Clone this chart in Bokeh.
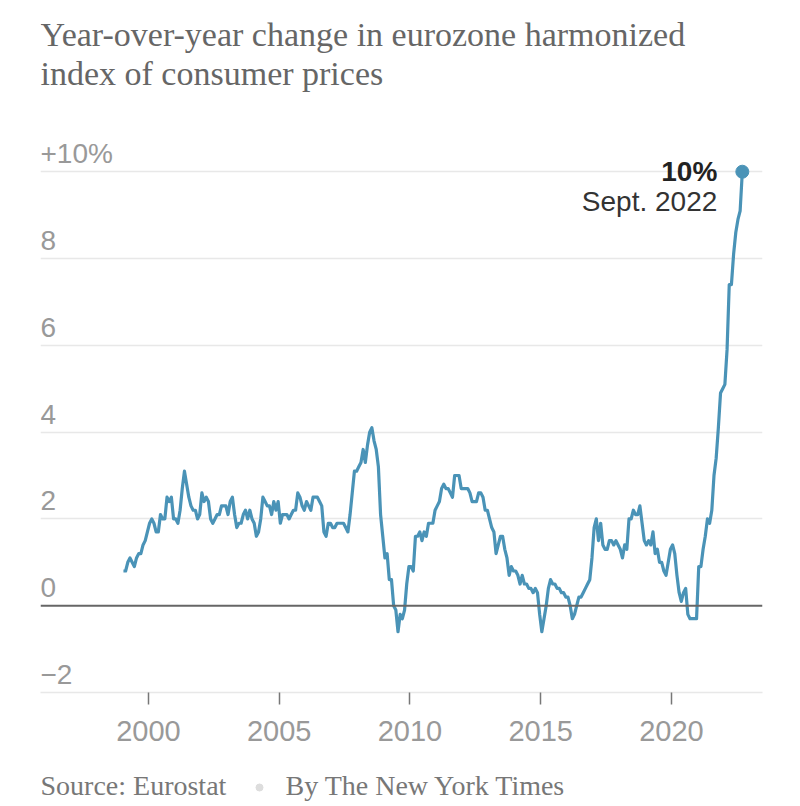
from bokeh.plotting import figure
from bokeh.layouts import column
from bokeh.models import Span, FixedTicker, Range1d
from bokeh.core.properties import value
from bokeh.embed import file_html
from bokeh.resources import INLINE

# Eurozone HICP, year-over-year change (%), monthly Jan..Dec
y1999 = [0.8, 0.8, 1.0, 1.1, 1.0, 0.9, 1.1, 1.2, 1.2, 1.4, 1.5, 1.7]
y2000 = [1.9, 2.0, 1.9, 1.7, 1.7, 2.1, 2.0, 2.0, 2.5, 2.4, 2.5, 2.0]
y2001 = [2.0, 1.9, 2.2, 2.7, 3.1, 2.8, 2.5, 2.3, 2.2, 2.2, 2.0, 2.1]
y2002 = [2.6, 2.4, 2.5, 2.4, 2.0, 1.9, 2.0, 2.1, 2.1, 2.3, 2.3, 2.3]
y2003 = [2.1, 2.4, 2.5, 2.1, 1.8, 1.9, 1.9, 2.1, 2.2, 2.0, 2.2, 2.0]
y2004 = [1.9, 1.6, 1.7, 2.0, 2.5, 2.4, 2.3, 2.3, 2.1, 2.4, 2.2, 2.4]
y2005 = [1.9, 2.1, 2.1, 2.1, 2.0, 2.1, 2.2, 2.2, 2.6, 2.5, 2.3, 2.2]
y2006 = [2.4, 2.3, 2.2, 2.5, 2.5, 2.5, 2.4, 2.3, 1.7, 1.6, 1.9, 1.9]
y2007 = [1.8, 1.8, 1.9, 1.9, 1.9, 1.9, 1.8, 1.7, 2.1, 2.6, 3.1, 3.1]
y2008 = [3.2, 3.3, 3.6, 3.3, 3.7, 4.0, 4.1, 3.8, 3.6, 3.2, 2.1, 1.6]
y2009 = [1.1, 1.2, 0.6, 0.6, 0.0, -0.1, -0.6, -0.2, -0.3, -0.1, 0.5, 0.9]
y2010 = [0.9, 0.8, 1.6, 1.6, 1.7, 1.5, 1.7, 1.6, 1.9, 1.9, 1.9, 2.2]
y2011 = [2.3, 2.4, 2.7, 2.8, 2.7, 2.7, 2.6, 2.5, 3.0, 3.0, 3.0, 2.7]
y2012 = [2.7, 2.7, 2.7, 2.6, 2.4, 2.4, 2.4, 2.6, 2.6, 2.5, 2.2, 2.2]
y2013 = [2.0, 1.8, 1.7, 1.2, 1.4, 1.6, 1.6, 1.3, 1.1, 0.7, 0.9, 0.8]
y2014 = [0.8, 0.7, 0.5, 0.7, 0.5, 0.5, 0.4, 0.4, 0.3, 0.4, 0.3, -0.2]
y2015 = [-0.6, -0.3, 0.0, 0.4, 0.6, 0.5, 0.5, 0.4, 0.4, 0.3, 0.3, 0.2]
y2016 = [0.2, 0.0, -0.3, -0.2, 0.0, 0.2, 0.2, 0.3, 0.4, 0.5, 0.6, 1.1]
y2017 = [1.8, 2.0, 1.5, 1.9, 1.4, 1.3, 1.3, 1.5, 1.5, 1.4, 1.5, 1.4]
y2018 = [1.3, 1.1, 1.4, 1.3, 2.0, 2.0, 2.2, 2.1, 2.1, 2.3, 1.9, 1.5]
y2019 = [1.4, 1.5, 1.4, 1.7, 1.2, 1.3, 1.0, 1.0, 0.8, 0.7, 1.0, 1.3]
y2020 = [1.4, 1.2, 0.7, 0.3, 0.1, 0.3, 0.4, -0.2, -0.3, -0.3, -0.3, -0.3]
y2021 = [0.9, 0.9, 1.3, 1.6, 2.0, 1.9, 2.2, 3.0, 3.4, 4.1, 4.9, 5.0]
y2022 = [5.1, 5.9, 7.4, 7.4, 8.1, 8.6, 8.9, 9.1, 10.0]

series = [y1999, y2000, y2001, y2002, y2003, y2004, y2005, y2006, y2007, y2008,
          y2009, y2010, y2011, y2012, y2013, y2014, y2015, y2016, y2017, y2018,
          y2019, y2020, y2021, y2022]
first_year = 1999

y_ticks = [-2, 0, 2, 4, 6, 8, 10]
y_tick_labels = ["\u22122", "0", "2", "4", "6", "8", "+10%"]
x_ticks = [2000, 2005, 2010, 2015, 2020]

title_lines = ["Year-over-year change in eurozone harmonized", "index of consumer prices"]
source_text = "Source: Eurostat"
byline_text = "By The New York Times"
last_value_label = "10%"
last_date_label = "Sept. 2022"

xs, ys = [], []
for i, vals in enumerate(series):
    for m, v in enumerate(vals):
        xs.append(first_year + i + (m + 0.5) / 12.0)
        ys.append(v)

LINE = "#4a93b7"
SANS = "Liberation Sans"
SERIF = "Liberation Serif"
W = 800
LEFT, RIGHT = 40, 38


def blank(height):
    # frame spans the same pixels as the main chart's frame (column aligns frames)
    f = figure(width=W, height=height, x_range=Range1d(LEFT, W - RIGHT),
               y_range=Range1d(height, 0),
               output_backend="svg", toolbar_location=None,
               x_axis_location=None, y_axis_location=None,
               min_border_left=LEFT, min_border_right=RIGHT,
               min_border_top=0, min_border_bottom=0)
    f.title.visible = False
    f.outline_line_color = None
    f.xgrid.visible = False
    f.ygrid.visible = False
    return f


# header
head = blank(130)
head.text(x=[40, 40], y=[34, 73], text=title_lines, text_align="left", text_baseline="middle",
          text_font=value(SERIF), text_font_size="34px", text_color="#666666")

# main chart
x0, x1 = 1995.87, 2023.48
p = figure(width=W, height=630, x_range=(x0, x1), y_range=(-2, 10.95),
           output_backend="svg", toolbar_location=None, y_axis_location=None,
           min_border_left=LEFT, min_border_right=RIGHT, min_border_top=0,
           min_border_bottom=68)
p.title.visible = False
p.outline_line_color = None
p.xgrid.visible = False
p.ygrid.ticker = FixedTicker(ticks=[2, 4, 6, 8, 10])
p.ygrid.grid_line_color = "#e8e8e8"
p.ygrid.grid_line_width = 1.5

ax = p.xaxis[0]
ax.ticker = FixedTicker(ticks=x_ticks)
ax.axis_line_color = "#e8e8e8"
ax.axis_line_width = 1.5
ax.major_tick_in = 0
ax.major_tick_out = 12
ax.major_tick_line_color = "#777777"
ax.major_tick_line_width = 1.5
ax.minor_tick_line_color = None
ax.major_label_text_font = SANS
ax.major_label_text_font_size = "29px"
ax.major_label_text_color = "#999999"
ax.major_label_standoff = 16

p.add_layout(Span(location=0, dimension="width", line_color="#666666", line_width=2))

p.text(x=[x0] * len(y_ticks), y=y_ticks, text=y_tick_labels, text_align="left",
       text_baseline="middle", y_offset=-18, text_font=value(SANS),
       text_font_size="28px", text_color="#999999")

p.line(xs, ys, line_color=LINE, line_width=3.2, line_join="round")
p.scatter([xs[-1]], [ys[-1]], size=13, color=LINE)

p.text(x=[xs[-1]], y=[ys[-1]], text=[last_value_label], text_align="right",
       text_baseline="middle", x_offset=-25, y_offset=0, text_font=value(SANS),
       text_font_style="bold", text_font_size="28px", text_color="#222222")
p.text(x=[xs[-1]], y=[ys[-1]], text=[last_date_label], text_align="right",
       text_baseline="middle", x_offset=-25, y_offset=30, text_font=value(SANS),
       text_font_size="28px", text_color="#333333")

# footer
foot = blank(46)
foot.text(x=[40, 285], y=[25, 25], text=[source_text, byline_text], text_align="left",
          text_baseline="middle", text_font=value(SERIF), text_font_size="28px",
          text_color="#777777")
foot.scatter([259], [27], size=7, color="#dddddd")

layout = column(head, p, foot, spacing=0)
open("out.html", "w").write(file_html(layout, INLINE))
